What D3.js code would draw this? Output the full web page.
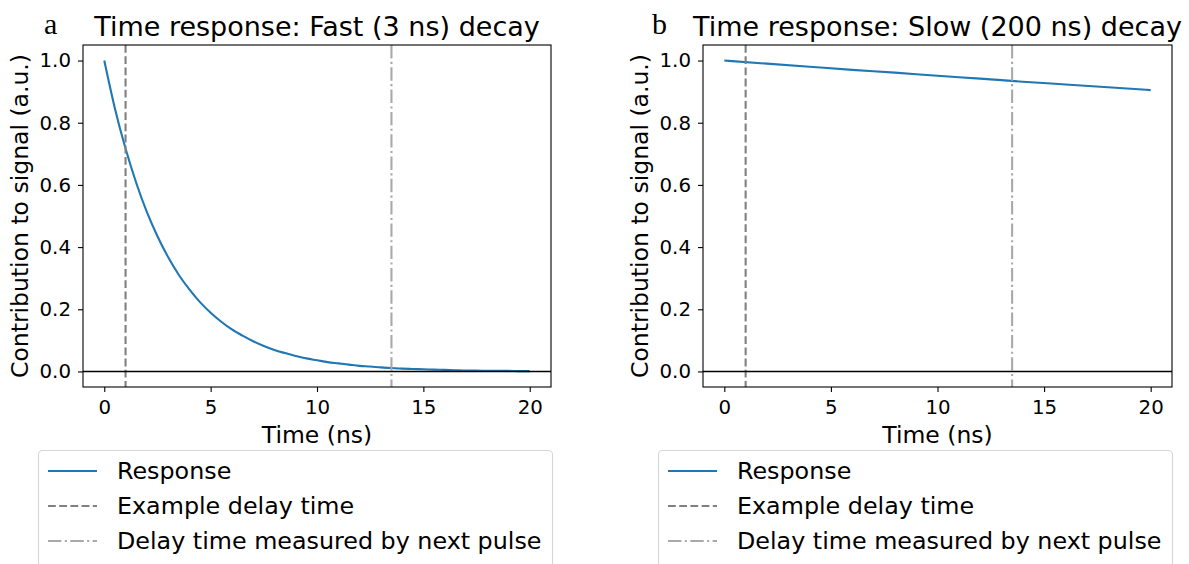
<!DOCTYPE html>
<html>
<head>
<meta charset="utf-8">
<script src="https://cdn.jsdelivr.net/npm/d3@7"></script>
<style>
  html, body { margin: 0; padding: 0; background: #fff; }
  svg { display: block; }
  text { fill: #000; }
</style>
</head>
<body>
<svg id="chart" width="1189" height="564"></svg>
<script>
// Sampled response curves (time in ns, normalised contribution)
const timeFast = d3.range(0, 20.01, 0.5);
const fastResponse = [
  1.000, 0.846, 0.717, 0.607, 0.513, 0.435, 0.368, 0.311, 0.264, 0.223,
  0.189, 0.160, 0.135, 0.115, 0.097, 0.082, 0.069, 0.059, 0.050, 0.042,
  0.036, 0.030, 0.026, 0.022, 0.018, 0.016, 0.013, 0.011, 0.009, 0.008,
  0.007, 0.006, 0.005, 0.004, 0.003, 0.003, 0.002, 0.002, 0.002, 0.001,
  0.001
];
const timeSlow = [0, 2, 4, 6, 8, 10, 12, 14, 16, 18, 20];
const slowResponse = [1.000, 0.990, 0.980, 0.970, 0.961, 0.951, 0.942, 0.932, 0.923, 0.914, 0.905];

// Reference times
const exampleDelay = 1;
const nextPulseDelay = 13.5;

// Axis ticks and labels
const xTicks = [0, 5, 10, 15, 20];
const yTicks = [0.0, 0.2, 0.4, 0.6, 0.8, 1.0];
const xDomain = [-1, 21];
const yDomain = [-0.05, 1.05];

const panelLetters = ["a", "b"];
const panelTitles = ["Time response: Fast (3 ns) decay", "Time response: Slow (200 ns) decay"];
const xLabel = "Time (ns)";
const yLabel = "Contribution to signal (a.u.)";
const legendLabels = ["Response", "Example delay time", "Delay time measured by next pulse"];

const colors = { response: "#1f77b4", example: "#808080", next: "#a9a9a9" };
const dashExample = "7.8,3.4";
const dashNext = "13.4,3.4,2.1,3.4";

const SANS = "DejaVu Sans, sans-serif";
const SERIF = "Liberation Serif, serif";

const svg = d3.select("#chart");

const panels = [
  { left: 83, right: 551, letterX: 44, legendX: 38, t: timeFast, v: fastResponse },
  { left: 703, right: 1172, letterX: 652, legendX: 658, t: timeSlow, v: slowResponse }
];
const axTop = 45, axBottom = 387;
const legendW = 514;

panels.forEach((p, i) => {
  const x = d3.scaleLinear().domain(xDomain).range([p.left, p.right]);
  const y = d3.scaleLinear().domain(yDomain).range([axBottom, axTop]);
  const g = svg.append("g");

  const clipId = "clip" + i;
  g.append("clipPath").attr("id", clipId)
    .append("rect").attr("x", p.left).attr("y", axTop)
    .attr("width", p.right - p.left).attr("height", axBottom - axTop);
  const plot = g.append("g").attr("clip-path", `url(#${clipId})`);

  // Response curve
  const line = d3.line().x((d, j) => x(p.t[j])).y(d => y(d)).curve(d3.curveMonotoneX);
  plot.append("path").datum(p.v)
    .attr("d", line)
    .attr("fill", "none").attr("stroke", colors.response)
    .attr("stroke-width", 2.1);

  // Delay markers
  plot.append("line")
    .attr("x1", x(exampleDelay)).attr("x2", x(exampleDelay))
    .attr("y1", axTop).attr("y2", axBottom)
    .attr("stroke", colors.example).attr("stroke-width", 2.1)
    .attr("stroke-dasharray", dashExample);
  plot.append("line")
    .attr("x1", x(nextPulseDelay)).attr("x2", x(nextPulseDelay))
    .attr("y1", axTop).attr("y2", axBottom)
    .attr("stroke", colors.next).attr("stroke-width", 2.1)
    .attr("stroke-dasharray", dashNext);

  // Zero baseline
  plot.append("line")
    .attr("x1", p.left).attr("x2", p.right)
    .attr("y1", y(0)).attr("y2", y(0))
    .attr("stroke", "#000").attr("stroke-width", 1.4);

  // Axes
  const xAxis = d3.axisBottom(x).tickValues(xTicks).tickSize(5).tickPadding(8)
    .tickFormat(d3.format("d"));
  const yAxis = d3.axisLeft(y).tickValues(yTicks).tickSize(5).tickPadding(7)
    .tickFormat(d3.format(".1f"));

  const gx = g.append("g").attr("transform", `translate(0,${axBottom})`).call(xAxis);
  const gy = g.append("g").attr("transform", `translate(${p.left},0)`).call(yAxis);
  [gx, gy].forEach(a => {
    a.select(".domain").remove();
    a.selectAll(".tick line").attr("stroke", "#000").attr("stroke-width", 1.1);
    a.selectAll(".tick text").attr("font-size", "19.8px")
      .attr("font-family", SANS).attr("fill", "#000");
  });

  // Frame
  g.append("rect").attr("x", p.left).attr("y", axTop)
    .attr("width", p.right - p.left).attr("height", axBottom - axTop)
    .attr("fill", "none").attr("stroke", "#000").attr("stroke-width", 1.1);

  // Titles and labels
  g.append("text").attr("x", (p.left + p.right) / 2).attr("y", 35.5)
    .attr("text-anchor", "middle").attr("font-family", SANS).attr("font-size", "27px")
    .text(panelTitles[i]);
  g.append("text").attr("x", p.letterX).attr("y", 33.5)
    .attr("font-family", SERIF).attr("font-size", "30px")
    .text(panelLetters[i]);
  g.append("text").attr("x", (p.left + p.right) / 2).attr("y", 443)
    .attr("text-anchor", "middle").attr("font-family", SANS).attr("font-size", "23.5px")
    .text(xLabel);
  g.append("text")
    .attr("transform", `translate(${p.left - 55},${(axTop + axBottom) / 2}) rotate(-90)`)
    .attr("text-anchor", "middle").attr("font-family", SANS).attr("font-size", "23.5px")
    .text(yLabel);

  // Legend
  const lg = g.append("g").attr("transform", `translate(${p.legendX},450)`);
  lg.append("rect").attr("x", 0.5).attr("y", 0.5)
    .attr("width", legendW).attr("height", 130).attr("rx", 4)
    .attr("fill", "#fff").attr("stroke", "#d6d6d6").attr("stroke-width", 1.1);
  const entries = [
    { label: legendLabels[0], color: colors.response, dash: null },
    { label: legendLabels[1], color: colors.example, dash: dashExample },
    { label: legendLabels[2], color: colors.next, dash: dashNext }
  ];
  entries.forEach((e, k) => {
    const cy = 21 + k * 35;
    const h = lg.append("line").attr("x1", 10).attr("x2", 59)
      .attr("y1", cy).attr("y2", cy)
      .attr("stroke", e.color).attr("stroke-width", 2.1);
    if (e.dash) h.attr("stroke-dasharray", e.dash);
    lg.append("text").attr("x", 79).attr("y", cy + 8)
      .attr("font-family", SANS).attr("font-size", "23.8px").text(e.label);
  });
});
</script>
</body>
</html>
